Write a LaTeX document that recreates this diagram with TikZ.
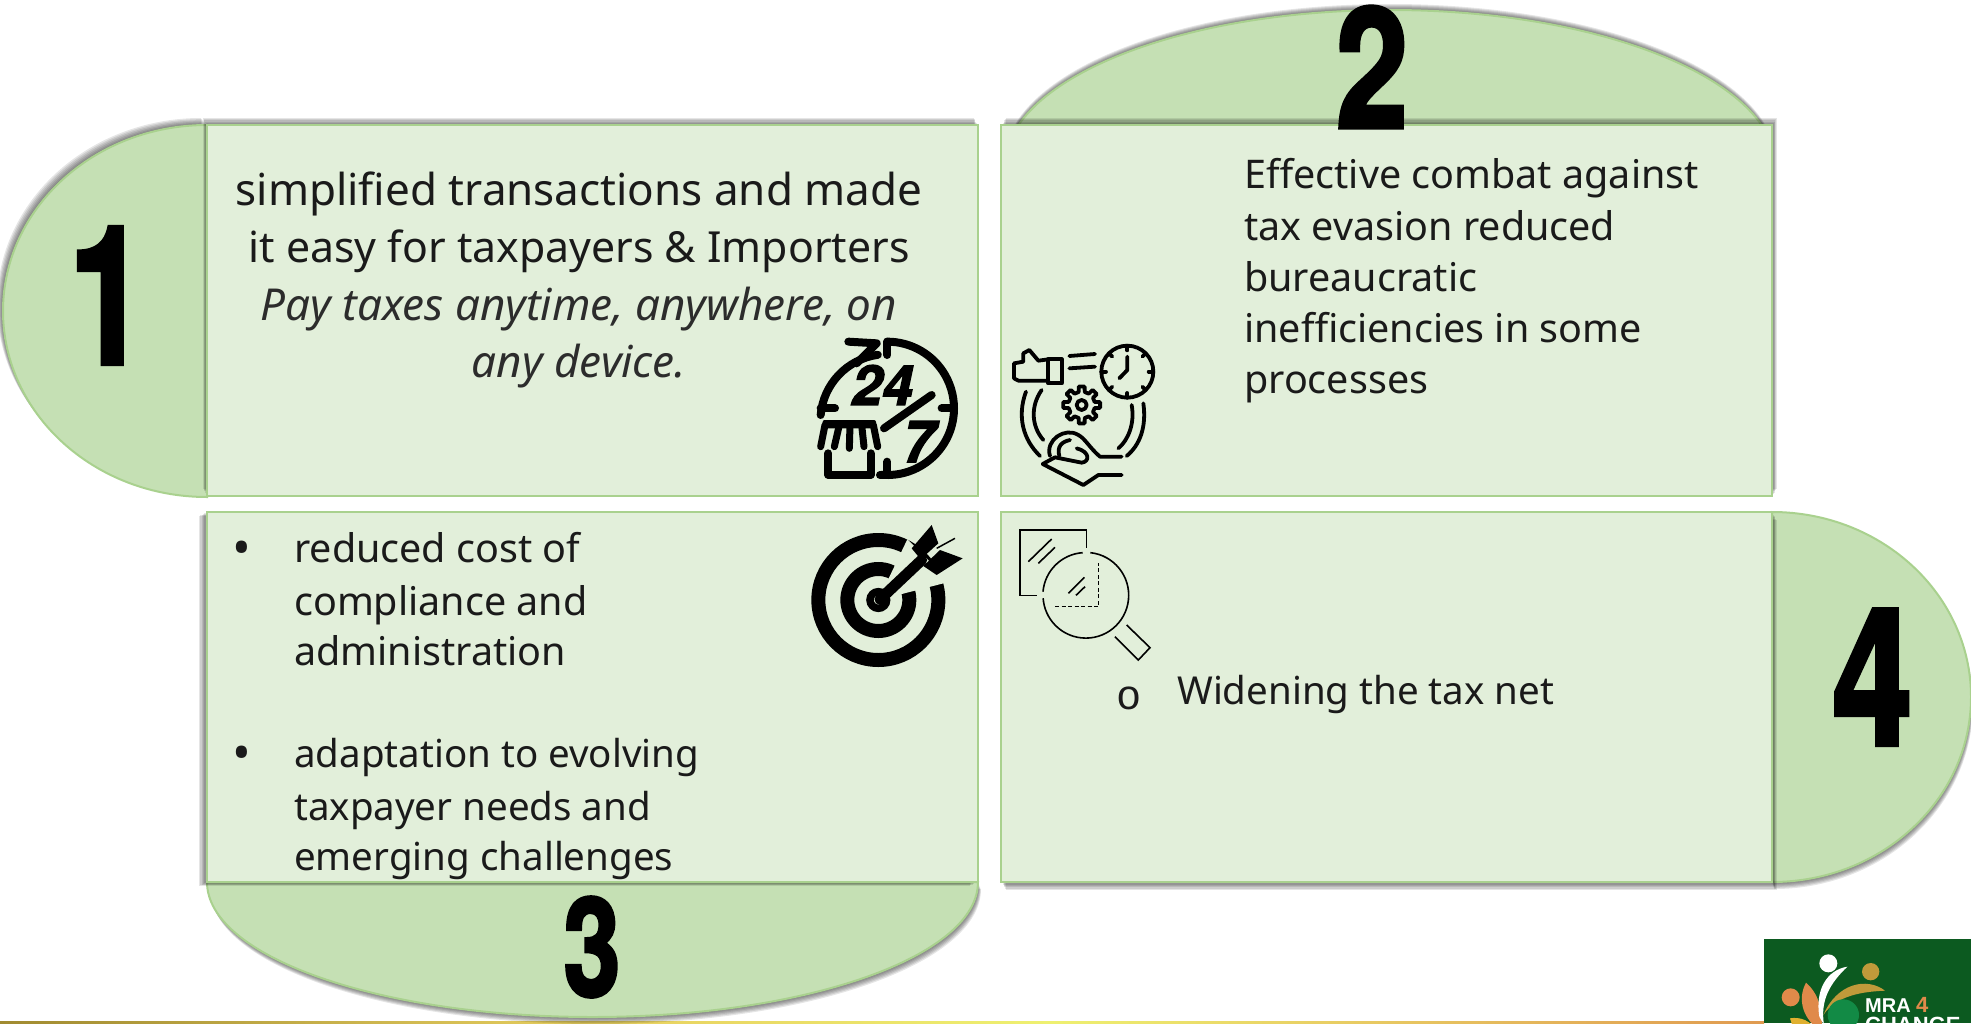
\documentclass[tikz,border=0pt]{standalone}
\usepackage{fontspec}
\usepackage{graphicx}
\setmainfont{Noto Sans}
\newfontfamily\digitfont[FakeBold=2.5]{TeX Gyre Heros}
\newfontfamily\logofont{Liberation Sans}
\newfontfamily\monofont{Liberation Mono}
\definecolor{boxfill}{HTML}{E2EFDA}
\definecolor{capfill}{HTML}{C5E0B4}
\definecolor{edgegreen}{HTML}{A9D18E}
\definecolor{inktext}{HTML}{1A1A1A}
\definecolor{logogreen}{HTML}{0C5A20}
\definecolor{logogold}{HTML}{C09A3A}
\definecolor{logoorange}{HTML}{E08A4A}
\definecolor{logomid}{HTML}{128A45}
\definecolor{logoyellow}{HTML}{E0B030}
\definecolor{ruleA}{HTML}{A08A30}
\definecolor{ruleB}{HTML}{E8D060}
\definecolor{ruleC}{HTML}{EEF070}
\definecolor{ruleD}{HTML}{E09A50}
% directional soft shadow: stacked fills, each a little further out
\newcommand{\softshadow}[3]{%
  \foreach \k in {1,...,6}{\fill[black,opacity=.1,shift={({#1*\k/6},{#2*\k/6})}] #3;}}
\tikzset{
  panel/.style={fill=boxfill,draw=edgegreen,line width=2pt},
  capshape/.style={fill=capfill,draw=edgegreen,line width=2pt},
  bigtext/.style={font=\fontsize{44}{44}\selectfont,anchor=base,text=inktext,inner sep=0pt},
  bigit/.style={font=\fontsize{44}{44}\selectfont\itshape,anchor=base,text=inktext!92!white,inner sep=0pt},
  midtext/.style={font=\fontsize{39.5}{39.5}\selectfont,anchor=base west,text=inktext,inner sep=0pt},
  lowtext/.style={font=\fontsize{38.5}{38.5}\selectfont,anchor=base west,text=inktext,inner sep=0pt},
  bullettext/.style={font=\fontsize{50}{50}\selectfont,anchor=base west,text=inktext,inner sep=0pt},
  digitnode/.style={inner sep=0pt,text=black,anchor=center},
  thick ink/.style={draw=black,line width=8pt,line cap=round,line join=round},
  thin ink/.style={draw=black,line width=3.8pt,line cap=round,line join=round},
  fine ink/.style={draw=black,line width=1.6pt},
}
\begin{document}
\begin{tikzpicture}[x=1pt,y=-1pt]
\useasboundingbox (0,0) rectangle (1971,1023);
\clip (0,0) rectangle (1971,1023);
\fill[white] (0,0) rectangle (1971,1023);

% bottom rule
\shade[left color=ruleA,right color=ruleB] (0,1021.5) rectangle (600,1023);
\shade[left color=ruleB,right color=ruleC] (600,1021.5) rectangle (1050,1023);
\shade[left color=ruleC,right color=ruleD] (1050,1021.5) rectangle (1764,1023);

% caps
\softshadow{-6}{-7}{(207,125) arc (270:90:204 and 186) -- cycle}
\draw[capshape] (207,125) arc (270:90:204 and 186) -- cycle;
\begin{scope}
\clip (980,0) rectangle (1800,125);
\softshadow{0}{-6}{(1390,168) ellipse (386 and 158)}
\draw[capshape] (1390,168) ellipse (386 and 158);
\end{scope}
\softshadow{3}{7}{(207,882) arc (180:0:385.5 and 135) -- cycle}
\draw[capshape] (207,882) arc (180:0:385.5 and 135) -- cycle;
\softshadow{2}{7}{(1772,512) arc (-90:90:199 and 185) -- cycle}
\draw[capshape] (1772,512) arc (-90:90:199 and 185) -- cycle;

% panels
\softshadow{-4}{-7}{(207,125) rectangle (978,496)}
\draw[panel] (207,125) rectangle (978,496);
\softshadow{5}{-7}{(1001,125) rectangle (1772,496)}
\draw[panel] (1001,125) rectangle (1772,496);
\softshadow{-8}{4}{(207,512) rectangle (978,882)}
\draw[panel] (207,512) rectangle (978,882);
\softshadow{5}{8}{(1001,512) rectangle (1772,882)}
\draw[panel] (1001,512) rectangle (1772,882);

% digits
\node[digitnode] (d1) at (108,295.5) {\resizebox{78pt}{136pt}{\digitfont\bfseries 1}};
\node[digitnode] (d2) at (1372,67) {\resizebox{72pt}{121pt}{\digitfont\bfseries 2}};
\node[digitnode] (d3) at (592,947) {\resizebox{57pt}{99pt}{\digitfont\bfseries 3}};
\node[digitnode] (d4) at (1872.5,677) {\resizebox{80pt}{135pt}{\digitfont\bfseries 4}};

% texts
\node[bigtext] (t1a) at (579,205) {simplified transactions and made};
\node[bigtext,font=\fontsize{42.8}{43}\selectfont] (t1b) at (579,262) {it easy for taxpayers \& Importers};
\node[bigit] (t1c) at (579,320) {Pay taxes anytime, anywhere, on};
\node[bigit] (t1d) at (579,377) {any device.};

\node[midtext] (t2a) at (1244,188.5) {Effective combat against};
\node[midtext] (t2b) at (1244,240) {tax evasion reduced};
\node[midtext] (t2c) at (1244,291.5) {bureaucratic};
\node[midtext] (t2d) at (1244,342) {inefficiencies in some};
\node[midtext] (t2e) at (1244,393.5) {processes};

\node[bullettext] (b3a) at (232,565) {•};
\node[midtext] (t3a) at (294,562) {reduced cost of};
\node[midtext] (t3b) at (294,615) {compliance and};
\node[midtext] (t3c) at (294,665) {administration};
\node[bullettext] (b3b) at (232,770) {•};
\node[lowtext] (t3d) at (294,767) {adaptation to evolving};
\node[lowtext] (t3e) at (294,820) {taxpayer needs and};
\node[lowtext] (t3f) at (294,870) {emerging challenges};

\node[midtext,font=\fontsize{42}{42}\selectfont\monofont] (b4) at (1116,709) {o};
\node[lowtext] (t4) at (1177,704) {Widening the tax net};

% 24/7 icon
\begin{scope}[shift={(780,300)},x=0.33333pt,y=-0.33333pt]
\draw[thick ink] (322,125) arc (270:365:200) arc (5:95:200);
\draw[thick ink] (122,345) arc (185:262:200);
\draw[thick ink] (322,125) -- (322,165) (322,485) -- (322,525) -- (300,525);
\draw[thick ink] (485,325) -- (522,325) (122,325) -- (165,325);
\draw[thick ink] (205,125) -- (290,130) -- (230,190);
\draw[thick ink] (312,385) -- (455,285);
\node[inner sep=0pt,text=black,font=\fontsize{55}{55}\selectfont\digitfont\bfseries\itshape] (i24) at (307,255) {24};
\node[inner sep=0pt,text=black,font=\fontsize{58}{58}\selectfont\digitfont\bfseries\itshape] (i7) at (415,425) {7};
\fill[black,rounded corners=2pt] (128,360) rectangle (288,385);
\draw[thick ink,line width=7pt] (135,375) -- (122,440) (178,375) -- (163,440) (210,375) -- (208,445) (245,375) -- (252,440) (280,375) -- (293,440);
\draw[thick ink] (145,460) -- (145,525) -- (272,525) -- (272,460);
\end{scope}

% combat icon
\begin{scope}[shift={(990,320)},x=0.33333pt,y=-0.33333pt]
\draw[thin ink] (412,155) circle (78);
\draw[thin ink] (412,110) -- (412,150) -- (388,175);
\foreach \a in {0,45,...,315}
  \draw[thin ink] ({412+78*cos(\a)},{155+78*sin(\a)}) -- ({412+64*cos(\a)},{155+64*sin(\a)});
\draw[thin ink] (175,118) -- (145,122) -- (118,90) -- (100,100) -- (100,125) -- (72,130) -- (72,175) -- (85,182) -- (175,182);
\draw[thin ink] (175,118) rectangle (215,190);
\draw[thin ink] (238,108) -- (315,102) (238,145) -- (315,140);
\draw[thin ink] ({275+40*cos(-13)},{255+40*sin(-13)})
  \foreach \a in {0,45,...,315}{ -- ({275+40*cos(\a-13)},{255+40*sin(\a-13)}) -- ({275+56*cos(\a-9)},{255+56*sin(\a-9)}) -- ({275+56*cos(\a+9)},{255+56*sin(\a+9)}) -- ({275+40*cos(\a+13)},{255+40*sin(\a+13)})} -- cycle;
\draw[thin ink] (275,255) circle (15);
\draw[thin ink] (108,215) .. controls (80,290) and (100,360) .. (150,408);
\draw[thin ink] (155,210) .. controls (120,260) and (125,320) .. (160,360);
\draw[thin ink] (425,255) .. controls (435,310) and (415,360) .. (385,385);
\draw[thin ink] (460,250) .. controls (470,320) and (450,375) .. (410,408);
\draw[thin ink] (180,408) .. controls (165,360) and (225,320) .. (265,345) .. controls (285,355) and (300,385) .. (330,410) -- (395,410);
\draw[thin ink] (208,408) .. controls (200,380) and (215,365) .. (240,360);
\draw[thin ink] (158,432) -- (195,412) -- (275,428) .. controls (300,425) and (300,395) .. (260,385);
\draw[thin ink] (158,432) -- (280,495) -- (325,465) -- (395,465);
\end{scope}

% target icon
\begin{scope}[shift={(790,510)},x=0.33333pt,y=-0.33333pt]
\draw[black,line width=14pt] (265,270) circle (180);
\draw[black,line width=14pt] (265,270) circle (93);
\draw[black,line width=7.5pt] (265,270) circle (25);
\fill[boxfill] (265,270) -- (352,88) -- (480,215) -- cycle;
\draw[black,line width=11pt,line cap=round] (270,268) -- (395,150);
\fill[black] (365,115) -- (425,45) -- (445,100) -- (392,148) -- cycle;
\fill[black] (400,168) -- (450,120) -- (518,145) -- (440,195) -- cycle;
\draw[black,line width=1.5pt] (440,115) -- (495,85);
\end{scope}

% magnifier icon
\begin{scope}[shift={(1000,510)},x=0.33333pt,y=-0.33333pt]
\draw[fine ink] (110,257) -- (60,257) -- (60,60) -- (260,60) -- (260,115);
\draw[fine ink] (85,155) -- (155,87) (115,160) -- (165,112) (205,250) -- (253,202) (228,256) -- (255,230);
\draw[fine ink] (271,128) arc (-84:176:128.5);
\draw[fine ink] (129,245) arc (185:266:128.5);
\draw[fine ink,dash pattern=on 4pt off 2.5pt] (165,290) -- (295,290) -- (295,160);
\draw[fine ink] (345,380) -- (415,450) -- (450,413) -- (380,345);
\end{scope}

% logo
\begin{scope}
\clip (1764,939) rectangle (1971,1023);
\fill[logogreen] (1764,939) rectangle (1971,1023);
\begin{scope}[shift={(1740,920)},x=0.33333pt,y=-0.33333pt]
\fill[white] (265,130) circle (27);
\fill[logogold] (392,155) circle (26);
\fill[logoorange] (152,232) circle (27);
\fill[logoorange] (198,188) .. controls (170,240) and (190,300) .. (245,335) .. controls (250,270) and (235,220) .. (198,188);
\fill[white] (322,140) .. controls (260,150) and (225,210) .. (238,290) -- (252,315) .. controls (240,240) and (270,190) .. (322,140);
\fill[logogold] (250,285) .. controls (290,190) and (380,170) .. (435,212) .. controls (370,215) and (290,225) .. (250,285);
\fill[logomid] (310,285) circle (47);
\fill[logoyellow] (150,295) .. controls (180,290) and (215,300) .. (232,340) -- (165,340) -- cycle;
\node[anchor=base west,inner sep=0pt,text=white,font=\fontsize{20}{20}\selectfont\logofont\bfseries] (lg1) at (375,278) {MRA};
\node[anchor=base west,inner sep=0pt,text=logoorange,font=\fontsize{22}{22}\selectfont\logofont\bfseries] (lg2) at (528,278) {4};
\node[anchor=base west,inner sep=0pt,text=white,font=\fontsize{22}{22}\selectfont\logofont\bfseries] (lg3) at (375,337) {CHANGE};
\end{scope}
\end{scope}
\end{tikzpicture}
\end{document}
